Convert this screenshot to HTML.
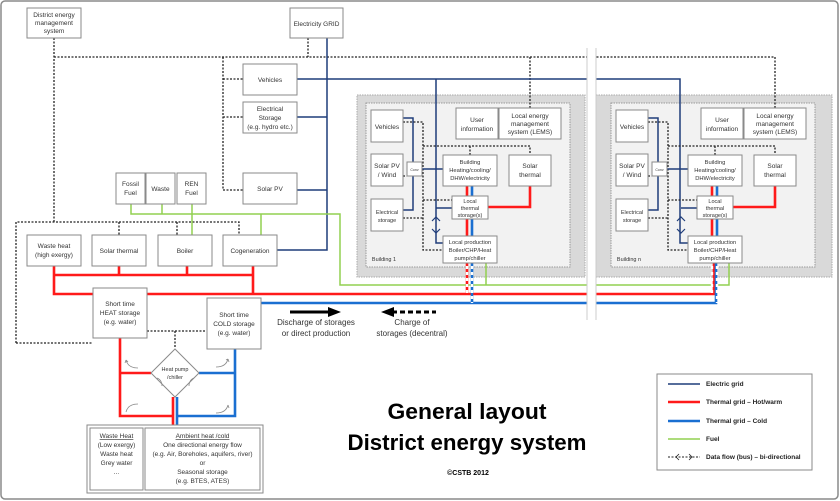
<!DOCTYPE html>
<html><head><meta charset="utf-8"><style>
html,body{margin:0;padding:0;background:#fff;}
svg{display:block;font-family:"Liberation Sans",sans-serif;}
text{fill:#333;font-size:6.5px;text-anchor:middle;}
.b{fill:#fff;stroke:#8a8a8a;stroke-width:1;}
.d{fill:none;stroke:#222;stroke-width:1.3;stroke-dasharray:2,1.5;}
.e{fill:none;stroke:#1f3d7a;stroke-width:1.5;}
.r{fill:none;stroke:#ff1a1a;stroke-width:2.6;}
.c{fill:none;stroke:#1a6fd1;stroke-width:2.6;}
.g{fill:none;stroke:#92d050;stroke-width:1.5;}
</style></head><body>
<svg width="840" height="501" viewBox="0 0 840 501" xmlns="http://www.w3.org/2000/svg">
<rect x="1" y="1" width="837" height="498" rx="4" fill="#fff" stroke="#8a8a8a" stroke-width="1.5"/>

<!-- Buildings backgrounds -->
<rect x="357" y="95" width="228" height="182" fill="#d9d9d9" stroke="#aaa" stroke-dasharray="1.5,1"/>
<rect x="366" y="103" width="204" height="164" fill="#f2f2f2" stroke="#999" stroke-dasharray="1.5,1"/>
<rect x="596" y="95" width="236" height="182" fill="#d9d9d9" stroke="#aaa" stroke-dasharray="1.5,1"/>
<rect x="611" y="103" width="204" height="164" fill="#f2f2f2" stroke="#999" stroke-dasharray="1.5,1"/>

<!-- top data bus -->
<path class="d" d="M54 38V222 M54 57H775V108 M308 38V57 M223 57V190 M223 79H243 M223 117H243 M223 190H243 M530 57V108"/>
<!-- lower data rect -->
<path class="d" d="M16 343V222H239V235 M119 222V235 M177 222V235 M16 343H93 M147 331H207 M175 331V348"/>

<!-- electric grid -->
<path class="e" d="M327 38V250H277 M297 79H680V243H689 M297 117H327 M297 190H327 M436 79V243H443"/>
<!-- fuel -->
<path class="g" d="M131 204V214H340V285H729V262 M162 204V214 M192 204V235 M261 214V235 M486 285V262"/>
<!-- red -->
<path class="r" d="M54 265V294H714V262 M54 275H253 M119 266V275 M187 266V275 M253 266V294 M120 338V416H173V425 M120 373H151 M173 397V425"/>
<!-- blue -->
<path class="c" d="M261 303H716V262 M235 349V416H177V425 M235 373H199 M177 397V425"/>

<!-- gap band -->
<rect x="587" y="48" width="9" height="272" fill="#fff"/>
<path d="M587 48V320 M596 48V320" stroke="#ccc" stroke-width="1"/>

<!-- building internals template -->
<g id="b1">
<path class="d" d="M403 122H423V250H443 M403 176H407 M403 218H423 M423 146H530V154 M470 146V155 M423 200H452"/>
<path class="e" d="M403 118H413V210H403 M413 162V176 M422 169H443 M436 208H452"/>
<path d="M432 221l4-4 4 4 M432 229l4 4 4-4" fill="none" stroke="#1f3d7a" stroke-width="1.2"/>
<path class="r" d="M467 186V294 M530 186V207H488" stroke-width="2.2"/>
<path class="c" d="M472 186V303" stroke-width="2.2"/>
<path d="M467 266V294 M472 266V303" stroke="#fff" stroke-width="2.4" stroke-dasharray="3,3"/>
<rect class="b" x="371" y="110" width="32" height="32"/><text x="387" y="129">Vehicles</text>
<rect class="b" x="371" y="154" width="32" height="32"/><text x="387" y="168">Solar PV</text><text x="387" y="177">/ Wind</text>
<rect class="b" x="371" y="199" width="32" height="32"/><text x="387" y="214" style="font-size:5.5px">Electrical</text><text x="387" y="222" style="font-size:5.5px">storage</text>
<rect class="b" x="407" y="162" width="15" height="14"/><text x="414.5" y="171" style="font-size:3.5px">Conv</text>
<rect class="b" x="456" y="108" width="42" height="31"/><text x="477" y="122">User</text><text x="477" y="131">information</text>
<rect class="b" x="499" y="108" width="62" height="31"/><text x="530" y="118">Local energy</text><text x="530" y="126">management</text><text x="530" y="134">system (LEMS)</text>
<rect class="b" x="443" y="155" width="54" height="31"/><text x="470" y="164" style="font-size:5.8px">Building</text><text x="470" y="172" style="font-size:5.8px">Heating/cooling/</text><text x="470" y="180" style="font-size:5.8px">DHW/electricity</text>
<rect class="b" x="509" y="155" width="42" height="31"/><text x="530" y="168">Solar</text><text x="530" y="177">thermal</text>
<rect class="b" x="452" y="196" width="36" height="23"/><text x="470" y="203" style="font-size:5.5px">Local</text><text x="470" y="210" style="font-size:5.5px">thermal</text><text x="470" y="217" style="font-size:5.5px">storage(s)</text>
<rect class="b" x="443" y="236" width="54" height="27"/><text x="470" y="244" style="font-size:5.8px">Local production</text><text x="470" y="252" style="font-size:5.8px">Boiler/CHP/Heat</text><text x="470" y="260" style="font-size:5.8px">pump/chiller</text>
</g>
<text x="384" y="261" style="font-size:5.5px">Building 1</text>

<g transform="translate(245,0)">
<path class="d" d="M403 122H423V250H443 M403 176H407 M403 218H423 M423 146H530V154 M470 146V155 M423 200H452"/>
<path class="e" d="M403 118H413V210H403 M413 162V176 M422 169H443 M436 208H452"/>
<path d="M432 221l4-4 4 4 M432 229l4 4 4-4" fill="none" stroke="#1f3d7a" stroke-width="1.2"/>
<path class="r" d="M530 186V207H488" stroke-width="2.2"/>
<path class="r" d="M467 186V236" stroke-width="2.2"/>
<path class="c" d="M472 186V236" stroke-width="2.2"/>
<path d="M467 266V294 M472 266V303" stroke="#fff" stroke-width="2.4" stroke-dasharray="3,3"/>
<rect class="b" x="371" y="110" width="32" height="32"/><text x="387" y="129">Vehicles</text>
<rect class="b" x="371" y="154" width="32" height="32"/><text x="387" y="168">Solar PV</text><text x="387" y="177">/ Wind</text>
<rect class="b" x="371" y="199" width="32" height="32"/><text x="387" y="214" style="font-size:5.5px">Electrical</text><text x="387" y="222" style="font-size:5.5px">storage</text>
<rect class="b" x="407" y="162" width="15" height="14"/><text x="414.5" y="171" style="font-size:3.5px">Conv</text>
<rect class="b" x="456" y="108" width="42" height="31"/><text x="477" y="122">User</text><text x="477" y="131">information</text>
<rect class="b" x="499" y="108" width="62" height="31"/><text x="530" y="118">Local energy</text><text x="530" y="126">management</text><text x="530" y="134">system (LEMS)</text>
<rect class="b" x="443" y="155" width="54" height="31"/><text x="470" y="164" style="font-size:5.8px">Building</text><text x="470" y="172" style="font-size:5.8px">Heating/cooling/</text><text x="470" y="180" style="font-size:5.8px">DHW/electricity</text>
<rect class="b" x="509" y="155" width="42" height="31"/><text x="530" y="168">Solar</text><text x="530" y="177">thermal</text>
<rect class="b" x="452" y="196" width="36" height="23"/><text x="470" y="203" style="font-size:5.5px">Local</text><text x="470" y="210" style="font-size:5.5px">thermal</text><text x="470" y="217" style="font-size:5.5px">storage(s)</text>
<rect class="b" x="443" y="236" width="54" height="27"/><text x="470" y="244" style="font-size:5.8px">Local production</text><text x="470" y="252" style="font-size:5.8px">Boiler/CHP/Heat</text><text x="470" y="260" style="font-size:5.8px">pump/chiller</text>
<text x="384" y="261" style="font-size:5.5px">Building n</text>
</g>

<!-- main boxes -->
<rect class="b" x="27" y="8" width="54" height="30"/><text x="54" y="17">District energy</text><text x="54" y="25">management</text><text x="54" y="33">system</text>
<rect class="b" x="290" y="8" width="53" height="30"/><text x="316.5" y="26">Electricity GRID</text>
<rect class="b" x="243" y="64" width="54" height="31"/><text x="270" y="82">Vehicles</text>
<rect class="b" x="243" y="102" width="54" height="31"/><text x="270" y="111">Electrical</text><text x="270" y="120">Storage</text><text x="270" y="129">(e.g. hydro etc.)</text>
<rect class="b" x="243" y="173" width="54" height="31"/><text x="270" y="191">Solar PV</text>
<rect class="b" x="116" y="173" width="29" height="31"/><text x="130.5" y="186">Fossil</text><text x="130.5" y="195">Fuel</text>
<rect class="b" x="146" y="173" width="29" height="31"/><text x="160.5" y="191">Waste</text>
<rect class="b" x="177" y="173" width="29" height="31"/><text x="191.5" y="186">REN</text><text x="191.5" y="195">Fuel</text>
<rect class="b" x="27" y="235" width="54" height="31"/><text x="54" y="248">Waste heat</text><text x="54" y="257">(high exergy)</text>
<rect class="b" x="92" y="235" width="54" height="31"/><text x="119" y="253">Solar thermal</text>
<rect class="b" x="158" y="235" width="54" height="31"/><text x="185" y="253">Boiler</text>
<rect class="b" x="223" y="235" width="54" height="31"/><text x="250" y="253">Cogeneration</text>
<rect class="b" x="93" y="288" width="54" height="50"/><text x="120" y="306">Short time</text><text x="120" y="315">HEAT storage</text><text x="120" y="324">(e.g. water)</text>
<rect class="b" x="207" y="298" width="54" height="51"/><text x="234" y="317">Short time</text><text x="234" y="326">COLD storage</text><text x="234" y="335">(e.g. water)</text>

<!-- heat pump -->
<path d="M175 349L199 373L175 397L151 373Z" fill="#fff" stroke="#8a8a8a"/>
<text x="175" y="371" style="font-size:5.5px">Heat pump</text><text x="175" y="379" style="font-size:5.5px">/chiller</text>
<g fill="none" stroke="#888" stroke-width="0.8">
<path d="M126 360q2 8 12 8 M126 360l-1 3 M126 360l2 2"/>
<path d="M216 367q10 0 12 -8 M228 359l-2 1 M228 359l1 3"/>
<path d="M126 412q2 -8 12 -8 M216 413q10 0 12 -8 M228 405l1 3"/>
<path d="M162 386q0 -6 -5 -8 M189 386q0 -6 5 -8"/>
</g>

<!-- bottom box -->
<rect x="87" y="425" width="176" height="68" fill="#fff" stroke="#8a8a8a"/>
<rect class="b" x="90" y="428" width="53" height="62"/>
<rect class="b" x="145" y="428" width="115" height="62"/>
<text x="116.5" y="438" text-decoration="underline">Waste Heat</text>
<text x="116.5" y="447">(Low exergy)</text><text x="116.5" y="456">Waste heat</text><text x="116.5" y="465">Grey water</text><text x="116.5" y="474">...</text>
<text x="202.5" y="438" text-decoration="underline">Ambient heat /cold</text>
<text x="202.5" y="447">One directional energy flow</text>
<text x="202.5" y="456">(e.g. Air, Boreholes, aquifers, river)</text>
<text x="202.5" y="465">or</text>
<text x="202.5" y="474">Seasonal storage</text>
<text x="202.5" y="483">(e.g. BTES, ATES)</text>

<!-- arrows -->
<path d="M290 312H330" stroke="#000" stroke-width="3"/><path d="M328 307L341 312L328 317Z" fill="#000"/>
<text x="316" y="325" style="font-size:8px">Discharge of storages</text>
<text x="316" y="336" style="font-size:8px">or direct production</text>
<path d="M392 312H436" stroke="#000" stroke-width="3" stroke-dasharray="5,3"/><path d="M394 307L381 312L394 317Z" fill="#000"/>
<text x="412" y="325" style="font-size:8px">Charge of</text>
<text x="412" y="336" style="font-size:8px">storages (decentral)</text>

<!-- title -->
<text x="467" y="419" style="font-size:22px;font-weight:bold;fill:#000" textLength="159" lengthAdjust="spacingAndGlyphs">General layout</text>
<text x="467" y="450" style="font-size:22px;font-weight:bold;fill:#000" textLength="239" lengthAdjust="spacingAndGlyphs">District energy system</text>
<text x="468" y="475" style="font-size:7px;font-weight:bold;fill:#000">©CSTB 2012</text>

<!-- legend -->
<rect x="657" y="374" width="155" height="96" fill="#fff" stroke="#8a8a8a"/>
<path d="M668 384H700" stroke="#1f3d7a" stroke-width="1.5"/>
<path d="M668 402H700" stroke="#ff1a1a" stroke-width="2.5"/>
<path d="M668 421H700" stroke="#1a6fd1" stroke-width="2.5"/>
<path d="M668 439H700" stroke="#92d050" stroke-width="1.5"/>
<path d="M668 457H700" stroke="#222" stroke-width="1" stroke-dasharray="2,1.5"/>
<path d="M679 454l-3 3 3 3 M689 454l3 3-3 3" fill="none" stroke="#222" stroke-width="0.8"/>
<g style="font-size:6.5px;font-weight:bold">
<text x="706" y="386" style="text-anchor:start;fill:#222">Electric grid</text>
<text x="706" y="404" style="text-anchor:start;fill:#222">Thermal grid – Hot/warm</text>
<text x="706" y="423" style="text-anchor:start;fill:#222">Thermal grid – Cold</text>
<text x="706" y="441" style="text-anchor:start;fill:#222">Fuel</text>
<text x="706" y="459" style="text-anchor:start;fill:#222">Data flow (bus) – bi-directional</text>
</g>
</svg>
</body></html>
